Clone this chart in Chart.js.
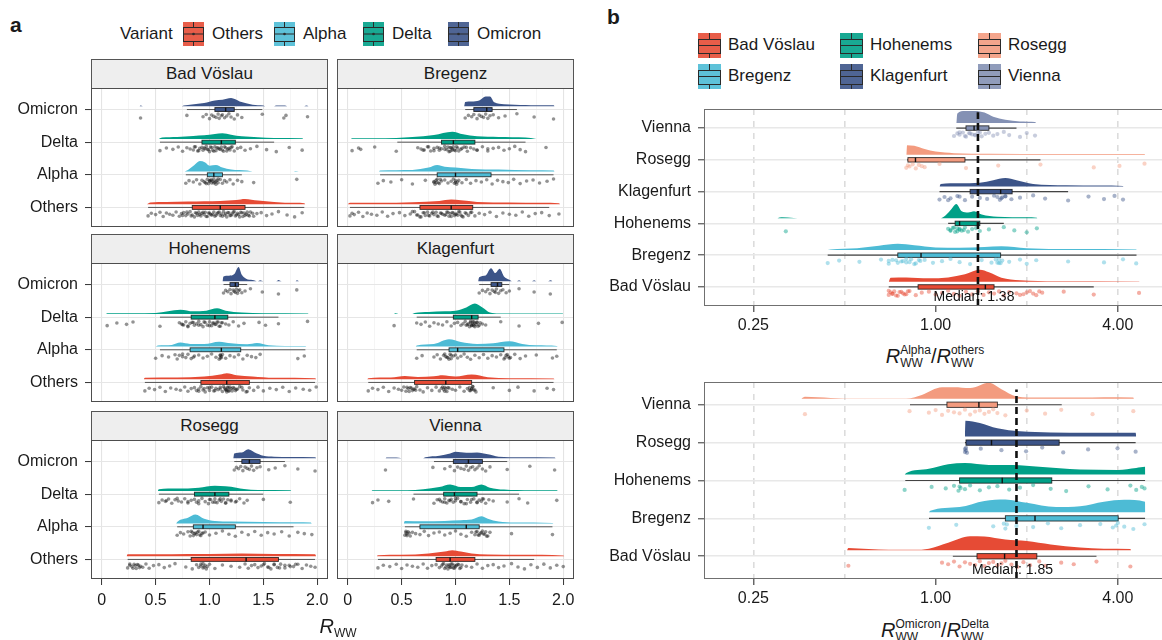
<!DOCTYPE html>
<html>
<head>
<meta charset="utf-8">
<script src="https://cdn.jsdelivr.net/npm/chart.js@4.4.1/dist/chart.umd.min.js"></script>
<style>
  html, body { margin: 0; padding: 0; background: #fff; }
  body { position: relative; width: 1162px; height: 640px; overflow: hidden;
         font-family: "Liberation Sans", Arial, Helvetica, sans-serif; color: #1a1a1a; }
  canvas { position: absolute; }
  .strip { position: absolute; box-sizing: border-box; border: 1px solid #555; background: #eeeeee;
           font-size: 17px; text-align: center; line-height: 28px; }
  .txt { position: absolute; white-space: nowrap; line-height: 20px; }
  .key { position: absolute; }
  .title { position: absolute; white-space: nowrap; transform: translateX(-50%); line-height: 24px; font-size: 20px; }
  .title i { font-style: italic; }
  .ss { display: inline-block; font-size: 12px; line-height: 13px; vertical-align: -4px; text-align: left; }
  .sub { font-size: 12px; vertical-align: -4px; }
</style>
</head>
<body>
<script>
Chart.defaults.font.family = '"Liberation Sans", Arial, Helvetica, sans-serif';
Chart.defaults.color = '#1a1a1a';

// ---------- panel a: R_WW by variant, one facet per site ----------
const variants = ['Others', 'Alpha', 'Delta', 'Omicron'];
const variantColors = ['#E64B35', '#4DBBD5', '#00A087', '#3C5488'];
const facetSites = ['Bad Vöslau', 'Bregenz', 'Hohenems', 'Klagenfurt', 'Rosegg', 'Vienna'];
const rTicks = [0, 0.25, 0.5, 0.75, 1, 1.25, 1.5, 1.75, 2];
const rTickLabels = ['0', '', '0.5', '', '1.0', '', '1.5', '', '2.0'];

// box stats per variant: [lower whisker, q1, median, q3, upper whisker]
const badVoslauBoxes = [[0.43,0.84,1.10,1.33,1.88],[0.78,0.98,1.04,1.12,1.30],[0.54,0.93,1.11,1.24,1.60],[0.79,1.05,1.15,1.23,1.49]];
const bregenzBoxes = [[0.02,0.67,0.96,1.16,1.87],[0.30,0.83,1.00,1.33,1.91],[0.46,0.87,0.98,1.18,1.65],[1.09,1.17,1.29,1.34,1.57]];
const hohenemsBoxes = [[0.40,0.92,1.16,1.37,1.98],[0.54,0.82,1.11,1.29,1.89],[0.54,0.83,1.05,1.17,1.64],[1.13,1.19,1.24,1.27,1.35]];
const klagenfurtBoxes = [[0.19,0.62,0.91,1.15,1.91],[0.64,0.94,1.02,1.45,1.94],[0.64,0.98,1.15,1.21,1.42],[1.22,1.33,1.39,1.43,1.50]];
const roseggBoxes = [[0.24,0.83,1.34,1.64,1.98],[0.70,0.85,0.94,1.24,1.78],[0.53,0.86,1.05,1.18,1.50],[1.23,1.30,1.37,1.47,1.70]];
const viennaBoxes = [[0.28,0.82,0.95,1.18,1.73],[0.53,0.67,1.10,1.22,1.90],[0.61,0.89,0.99,1.20,1.59],[0.80,0.98,1.12,1.25,1.48]];

// density outlines: [R_WW, height in category steps]
const badVoslauDensity = [
  [[0.42,0],[0.45,0.05],[0.6,0.07],[0.8,0.08],[0.95,0.09],[1.1,0.1],[1.25,0.13],[1.33,0.16],[1.45,0.11],[1.6,0.07],[1.8,0.04],[1.88,0.03],[1.89,0]],
  [[0.77,0],[0.8,0.05],[0.86,0.2],[0.91,0.32],[0.96,0.28],[1.0,0.18],[1.06,0.2],[1.12,0.12],[1.2,0.06],[1.35,0.03],[1.4,0],[1.78,0],[1.8,0.02],[1.83,0]],
  [[0.53,0],[0.56,0.04],[0.7,0.06],[0.85,0.09],[0.95,0.11],[1.05,0.15],[1.12,0.17],[1.2,0.13],[1.3,0.08],[1.45,0.05],[1.6,0.03],[1.86,0.02],[1.87,0]],
  [[0.35,0],[0.36,0.02],[0.38,0],[0.74,0],[0.76,0.02],[0.8,0.04],[0.95,0.1],[1.05,0.18],[1.12,0.2],[1.2,0.25],[1.28,0.15],[1.4,0.05],[1.5,0.02],[1.52,0],[1.6,0],[1.62,0.02],[1.7,0.02],[1.72,0],[1.88,0],[1.9,0.02],[1.92,0]]
];
const bregenzDensity = [
  [[0.0,0],[0.02,0.04],[0.3,0.04],[0.6,0.06],[0.85,0.1],[0.96,0.14],[1.05,0.12],[1.2,0.07],[1.5,0.05],[1.8,0.04],[1.96,0.03],[1.97,0]],
  [[0.29,0],[0.3,0.03],[0.6,0.05],[0.75,0.12],[0.83,0.2],[0.9,0.15],[1.0,0.12],[1.15,0.08],[1.4,0.06],[1.7,0.04],[1.91,0.03],[1.92,0]],
  [[0.03,0],[0.04,0.02],[0.25,0.02],[0.45,0.03],[0.6,0.06],[0.8,0.12],[0.97,0.22],[1.07,0.14],[1.2,0.08],[1.4,0.06],[1.65,0.04],[1.75,0]],
  [[1.08,0],[1.09,0.13],[1.15,0.15],[1.22,0.18],[1.28,0.3],[1.32,0.3],[1.36,0.12],[1.45,0.06],[1.55,0.05],[1.65,0.04],[1.75,0.03],[1.91,0.03],[1.92,0]]
];
const hohenemsDensity = [
  [[0.39,0],[0.4,0.04],[0.7,0.05],[0.95,0.08],[1.1,0.14],[1.16,0.18],[1.25,0.12],[1.4,0.08],[1.6,0.04],[1.98,0.03],[1.99,0]],
  [[0.5,0],[0.52,0.03],[0.65,0.05],[0.73,0.12],[0.82,0.08],[0.95,0.08],[1.09,0.15],[1.2,0.1],[1.35,0.07],[1.44,0.11],[1.55,0.04],[1.7,0.02],[1.89,0.02],[1.9,0]],
  [[0.04,0],[0.05,0.02],[0.3,0.02],[0.5,0.03],[0.73,0.13],[0.85,0.08],[0.97,0.1],[1.07,0.17],[1.15,0.1],[1.3,0.04],[1.5,0.02],[1.91,0.01],[1.92,0]],
  [[1.12,0],[1.13,0.15],[1.18,0.17],[1.23,0.22],[1.27,0.44],[1.3,0.2],[1.34,0.08],[1.4,0.04],[1.45,0],[1.47,0.03],[1.5,0],[1.62,0],[1.64,0.04],[1.67,0],[1.8,0],[1.81,0.03],[1.83,0]]
];
const klagenfurtDensity = [
  [[0.18,0],[0.19,0.03],[0.4,0.05],[0.53,0.1],[0.65,0.07],[0.8,0.09],[0.88,0.12],[1.0,0.08],[1.15,0.14],[1.3,0.06],[1.5,0.03],[1.91,0.02],[1.92,0]],
  [[0.63,0],[0.64,0.03],[0.8,0.08],[0.94,0.22],[1.05,0.14],[1.2,0.08],[1.35,0.1],[1.5,0.16],[1.62,0.08],[1.75,0.04],[1.94,0.02],[1.95,0]],
  [[0.43,0],[0.44,0.02],[0.47,0],[0.6,0],[0.62,0.03],[0.75,0.06],[0.9,0.08],[1.0,0.1],[1.1,0.2],[1.18,0.32],[1.25,0.2],[1.32,0.04],[1.4,0.01],[1.99,0.01],[2.0,0]],
  [[1.21,0],[1.22,0.12],[1.28,0.18],[1.33,0.4],[1.37,0.25],[1.41,0.38],[1.45,0.15],[1.5,0.05],[1.53,0],[1.57,0],[1.59,0.03],[1.61,0],[1.71,0],[1.73,0.03],[1.75,0],[1.86,0],[1.88,0.03],[1.9,0]]
];
const roseggDensity = [
  [[0.23,0],[0.24,0.06],[0.5,0.06],[0.8,0.07],[1.0,0.07],[1.3,0.08],[1.6,0.07],[1.98,0.06],[1.99,0]],
  [[0.69,0],[0.7,0.05],[0.8,0.18],[0.87,0.28],[0.95,0.15],[1.05,0.08],[1.2,0.06],[1.5,0.05],[1.8,0.04],[1.94,0.03],[1.95,0]],
  [[0.52,0],[0.53,0.05],[0.7,0.07],[0.9,0.1],[1.05,0.16],[1.15,0.14],[1.25,0.1],[1.32,0.06],[1.45,0.03],[1.75,0.02],[1.76,0]],
  [[1.22,0],[1.23,0.15],[1.3,0.18],[1.36,0.28],[1.42,0.18],[1.5,0.08],[1.6,0.05],[1.75,0.04],[1.98,0.03],[1.99,0]]
];
const viennaDensity = [
  [[0.27,0],[0.28,0.03],[0.5,0.04],[0.75,0.08],[0.9,0.14],[0.97,0.18],[1.05,0.14],[1.15,0.08],[1.3,0.05],[1.6,0.04],[2.0,0.02],[2.01,0]],
  [[0.52,0],[0.53,0.08],[0.7,0.07],[0.9,0.08],[1.05,0.1],[1.15,0.12],[1.24,0.22],[1.3,0.15],[1.4,0.06],[1.55,0.03],[1.9,0.02],[1.91,0]],
  [[0.22,0],[0.23,0.02],[0.55,0.02],[0.7,0.05],[0.85,0.12],[0.95,0.2],[1.05,0.12],[1.15,0.12],[1.24,0.2],[1.32,0.1],[1.45,0.04],[1.7,0.02],[1.94,0.02],[1.95,0]],
  [[0.35,0],[0.36,0.02],[0.45,0.02],[0.5,0],[0.7,0],[0.72,0.03],[0.85,0.08],[0.95,0.15],[1.0,0.2],[1.1,0.17],[1.2,0.18],[1.3,0.12],[1.4,0.05],[1.6,0.03],[1.92,0.02],[1.93,0]]
];

// observed R_WW values per variant
const badVoslauPoints = [
  [0.43,0.46,0.5,0.54,0.57,0.6,0.63,0.66,0.69,0.72,0.74,0.76,0.78,0.8,0.82,0.84,0.86,0.87,0.89,0.9,0.92,0.93,0.95,0.96,0.98,0.99,1.01,1.02,1.04,1.05,1.07,1.08,1.1,1.11,1.13,1.14,1.16,1.18,1.2,1.22,1.24,1.26,1.27,1.29,1.31,1.32,1.34,1.36,1.38,1.41,1.44,1.48,1.53,1.58,1.64,1.72,1.79,1.86,
   0.75,0.79,0.83,0.88,0.91,0.94,0.97,1.0,1.03,1.06,1.09,1.12,1.15,1.17,1.19,1.21,1.23,1.25,1.28,1.3,1.33,1.35,1.37,1.4],
  [0.78,0.81,0.85,0.88,0.91,0.93,0.95,0.96,0.98,0.99,1.0,1.01,1.02,1.03,1.04,1.05,1.06,1.07,1.08,1.1,1.12,1.14,1.16,1.19,1.22,1.26,1.3,1.41,1.81,0.97,1.0,1.02,1.04,1.06,1.08],
  [0.54,0.6,0.66,0.71,0.75,0.79,0.82,0.85,0.87,0.89,0.91,0.93,0.94,0.96,0.97,0.99,1.0,1.02,1.03,1.05,1.06,1.08,1.1,1.11,1.13,1.15,1.17,1.19,1.21,1.23,1.26,1.29,1.33,1.38,1.44,1.53,1.62,1.74,1.86,
   0.86,0.9,0.95,0.98,1.01,1.04,1.07,1.09,1.12,1.14,1.16,1.18,1.2],
  [0.36,0.79,0.94,0.97,1.0,1.02,1.04,1.06,1.08,1.09,1.11,1.12,1.14,1.16,1.18,1.2,1.23,1.26,1.3,1.49,1.69,1.71,1.91]
];
const bregenzPoints = [
  [0.02,0.04,0.06,0.1,0.14,0.18,0.22,0.27,0.32,0.37,0.42,0.48,0.53,0.58,0.62,0.65,0.68,0.7,0.72,0.74,0.76,0.78,0.8,0.82,0.84,0.86,0.88,0.9,0.92,0.94,0.95,0.97,0.99,1.01,1.03,1.05,1.07,1.09,1.12,1.15,1.18,1.22,1.27,1.32,1.38,1.44,1.5,1.56,1.62,1.68,1.74,1.8,1.87,1.96,
   0.6,0.64,0.67,0.71,0.75,0.79,0.83,0.87,0.91,0.93,0.96,0.98,1.0,1.02,1.04,1.06,1.1,1.14],
  [0.28,0.33,0.4,0.5,0.6,0.72,0.8,0.82,0.83,0.85,0.87,0.9,0.93,0.96,0.98,1.0,1.01,1.03,1.06,1.1,1.14,1.19,1.24,1.29,1.34,1.39,1.44,1.49,1.54,1.6,1.66,1.72,1.78,1.85,1.91,
   0.8,0.81,0.82,0.84,0.86,0.99,1.0,1.02],
  [0.04,0.1,0.12,0.25,0.45,0.65,0.68,0.71,0.74,0.77,0.8,0.83,0.85,0.87,0.9,0.92,0.94,0.95,0.97,0.98,1.0,1.02,1.05,1.08,1.11,1.14,1.17,1.2,1.25,1.3,1.35,1.4,1.45,1.5,1.55,1.6,1.65,1.84,
   0.7,0.75,0.8,0.85,0.9,0.93,0.95,0.96,0.97,0.99,1.01,1.03,1.06,1.1,1.2,1.3],
  [1.09,1.12,1.15,1.17,1.2,1.22,1.24,1.26,1.28,1.3,1.32,1.35,1.4,1.46,1.57,1.73,1.91]
];
const hohenemsPoints = [
  [0.4,0.44,0.49,0.54,0.59,0.64,0.69,0.73,0.77,0.8,0.83,0.86,0.88,0.9,0.92,0.94,0.96,0.98,1.0,1.02,1.04,1.06,1.08,1.1,1.12,1.14,1.15,1.16,1.17,1.18,1.2,1.22,1.24,1.26,1.28,1.31,1.34,1.37,1.41,1.45,1.5,1.56,1.62,1.68,1.74,1.8,1.87,1.93,1.99,
   0.9,0.95,1.0,1.05,1.1,1.13,1.15,1.16,1.17,1.18,1.19,1.21,1.23,1.25,1.3,1.35],
  [0.5,0.56,0.62,0.68,0.7,0.72,0.75,0.78,0.8,0.83,0.86,0.9,0.94,0.98,1.02,1.06,1.09,1.1,1.11,1.12,1.15,1.19,1.23,1.27,1.31,1.35,1.39,1.43,1.47,1.82,1.88,1.1,1.1,1.11,0.75,0.85],
  [0.05,0.14,0.23,0.29,0.54,0.72,0.74,0.76,0.78,0.8,0.82,0.84,0.86,0.88,0.9,0.92,0.94,0.96,0.98,1.0,1.02,1.04,1.06,1.08,1.1,1.12,1.15,1.18,1.22,1.27,1.32,1.46,1.52,1.64,1.91,
   0.75,0.8,0.85,0.9,0.95,1.0,1.03,1.05,1.07,1.09,1.11],
  [1.13,1.15,1.17,1.19,1.2,1.22,1.23,1.24,1.25,1.26,1.27,1.28,1.3,1.33,1.38,1.49,1.64,1.81]
];
const klagenfurtPoints = [
  [0.19,0.23,0.28,0.33,0.38,0.43,0.47,0.5,0.52,0.54,0.56,0.58,0.6,0.62,0.64,0.67,0.7,0.74,0.78,0.82,0.85,0.87,0.89,0.9,0.92,0.94,0.97,1.0,1.04,1.08,1.11,1.13,1.14,1.15,1.16,1.17,1.19,1.35,1.5,1.58,1.73,1.85,1.91,
   0.55,0.57,0.59,0.61,0.63,0.88,0.9,0.91,0.93,1.13,1.15,1.16,1.18],
  [0.64,0.69,0.8,0.83,0.86,0.89,0.91,0.93,0.95,0.96,0.98,1.0,1.02,1.05,1.08,1.11,1.14,1.18,1.22,1.26,1.3,1.34,1.38,1.42,1.45,1.47,1.49,1.51,1.55,1.6,1.65,1.75,1.9,1.94,
   0.9,0.92,0.94,0.96,1.46,1.48,1.5],
  [0.43,0.64,0.68,0.72,0.76,0.8,0.84,0.88,0.92,0.96,0.99,1.02,1.05,1.07,1.09,1.11,1.13,1.14,1.15,1.16,1.17,1.18,1.19,1.2,1.21,1.23,1.25,1.28,1.42,1.59,1.77,1.99,
   1.1,1.12,1.14,1.16,1.18,1.2,1.22,1.17,1.15],
  [1.22,1.25,1.28,1.3,1.32,1.34,1.36,1.37,1.38,1.4,1.42,1.44,1.47,1.5,1.59,1.73,1.88]
];
const roseggPoints = [
  [0.24,0.26,0.28,0.3,0.32,0.34,0.36,0.38,0.41,0.44,0.48,0.53,0.58,0.63,0.68,0.78,0.84,0.88,0.9,0.92,0.94,0.96,0.98,1.0,1.05,1.12,1.2,1.28,1.33,1.36,1.39,1.42,1.45,1.48,1.51,1.54,1.57,1.6,1.63,1.66,1.7,1.74,1.78,1.82,1.86,1.9,1.94,1.98,
   0.26,0.29,0.31,0.33,0.35,0.92,0.94,0.95,0.97,1.5,1.55,1.6,1.65,1.7,1.75,1.8],
  [0.7,0.73,0.76,0.8,0.82,0.84,0.86,0.88,0.9,0.92,0.94,0.96,1.0,1.06,1.12,1.18,1.24,1.3,1.36,1.42,1.48,1.54,1.6,1.67,1.74,1.82,1.88,1.95,
   0.83,0.85,0.87,0.89,0.91,0.93],
  [0.53,0.56,0.59,0.62,0.65,0.68,0.71,0.74,0.77,0.8,0.83,0.86,0.88,0.9,0.93,0.96,0.99,1.01,1.03,1.05,1.07,1.09,1.11,1.13,1.15,1.17,1.2,1.24,1.28,1.32,1.35,1.5,1.75,
   0.6,0.7,0.8,0.9,1.0,1.05,1.1,1.15,1.2,1.25],
  [1.23,1.25,1.27,1.29,1.31,1.33,1.35,1.37,1.39,1.41,1.44,1.47,1.55,1.61,1.7,1.82,1.98]
];
const viennaPoints = [
  [0.28,0.33,0.39,0.45,0.5,0.55,0.6,0.65,0.7,0.74,0.78,0.82,0.85,0.87,0.89,0.91,0.93,0.94,0.95,0.96,0.98,0.99,1.0,1.02,1.04,1.06,1.1,1.15,1.2,1.25,1.3,1.35,1.4,1.45,1.52,1.58,1.64,1.7,1.76,1.82,1.88,1.94,2.0,
   0.88,0.9,0.92,0.94,0.96,0.97,0.99,1.01,1.03,1.05],
  [0.53,0.54,0.55,0.56,0.58,0.6,0.63,0.67,0.71,0.75,0.8,0.85,0.9,0.95,1.0,1.05,1.1,1.15,1.18,1.2,1.22,1.24,1.26,1.28,1.3,1.32,1.52,1.9,
   0.54,0.55,0.57,1.19,1.21,1.23,1.25,1.27,1.29],
  [0.23,0.28,0.38,0.61,0.8,0.83,0.86,0.88,0.9,0.92,0.94,0.96,0.98,1.0,1.02,1.05,1.08,1.11,1.14,1.17,1.2,1.22,1.24,1.26,1.28,1.31,1.35,1.48,1.59,1.67,1.94,
   0.85,0.9,0.95,1.0,1.05,1.1,1.15,1.2,1.25],
  [0.35,0.79,0.9,0.95,0.99,1.02,1.05,1.08,1.1,1.12,1.14,1.16,1.18,1.2,1.22,1.25,1.28,1.32,1.48,1.69,1.92]
];

// ---------- panel b: ratios of R_WW between variants, per site ----------
const ratioTicks = [0.25, 0.5, 1, 2, 4];
const ratioTickLabels = ['0.25', '', '1.00', '', '4.00'];
const siteColors = ['#E64B35', '#4DBBD5', '#00A087', '#3C5488', '#F39B7F', '#8491B4'];

const alphaSites = ['Bad Vöslau', 'Bregenz', 'Hohenems', 'Klagenfurt', 'Rosegg', 'Vienna'];
const alphaColors = ['#E64B35', '#4DBBD5', '#00A087', '#3C5488', '#F39B7F', '#8491B4'];
const alphaMedian = 1.38;
const alphaBoxes = [[0.70,0.875,1.46,1.56,3.33],[0.44,0.75,0.895,1.64,4.61],[1.10,1.16,1.20,1.40,1.68],[1.03,1.30,1.64,1.79,2.74],[0.805,0.81,0.858,1.25,2.22],[1.17,1.26,1.34,1.50,1.85]];
const alphaDensity = [
  [[0.7,0],[0.71,0.13],[0.8,0.14],[0.95,0.11],[1.1,0.14],[1.25,0.24],[1.4,0.38],[1.5,0.3],[1.65,0.13],[1.9,0.05],[2.5,0.02],[4.7,0.01],[4.72,0]],
  [[0.44,0],[0.45,0.02],[0.55,0.06],[0.65,0.14],[0.75,0.2],[0.85,0.15],[1.0,0.08],[1.2,0.07],[1.45,0.1],[1.65,0.12],[2.0,0.06],[2.8,0.03],[4.6,0.02],[4.62,0]],
  [[0.3,0],[0.31,0.03],[0.34,0.01],[0.36,0],[1.03,0],[1.08,0.1],[1.13,0.3],[1.17,0.45],[1.22,0.22],[1.28,0.18],[1.34,0.22],[1.42,0.12],[1.6,0.05],[2.0,0.03],[2.16,0.02],[2.17,0]],
  [[1.03,0],[1.04,0.08],[1.2,0.1],[1.4,0.12],[1.55,0.2],[1.7,0.27],[1.85,0.2],[2.1,0.08],[2.7,0.04],[3.5,0.03],[4.16,0.02],[4.18,0]],
  [[0.8,0],[0.805,0.3],[0.85,0.28],[0.92,0.18],[1.0,0.1],[1.15,0.05],[1.5,0.03],[2.5,0.02],[4.0,0.02],[4.9,0.02],[4.92,0]],
  [[1.17,0],[1.18,0.3],[1.25,0.38],[1.35,0.38],[1.45,0.33],[1.55,0.2],[1.7,0.1],[1.9,0.05],[2.13,0.03],[2.15,0]]
];
const alphaPoints = [
  [0.7,0.71,0.72,0.73,0.74,0.76,0.78,0.8,0.82,0.86,0.9,0.95,1.0,1.05,1.1,1.15,1.2,1.26,1.32,1.38,1.44,1.5,1.56,1.62,1.68,1.75,1.85,1.95,2.05,2.15,2.25,2.65,3.33,4.7,
   0.7,0.72,0.75,0.77,0.79,0.81,1.9,2.0,2.1,2.2],
  [0.44,0.48,0.56,0.66,0.7,0.74,0.77,0.8,0.83,0.86,0.89,0.92,0.98,1.05,1.12,1.2,1.3,1.42,1.53,1.58,1.62,1.66,1.75,1.9,2.0,2.15,2.74,3.6,4.16,4.6,
   0.7,0.72,0.75,0.78,0.8,0.82,0.85,0.88,1.6,1.62,1.64],
  [0.32,1.1,1.12,1.14,1.16,1.18,1.2,1.22,1.25,1.28,1.32,1.36,1.4,1.5,1.68,1.82,2.0,2.16,1.12,1.15,1.18,1.2,1.24],
  [1.03,1.07,1.12,1.18,1.25,1.32,1.4,1.48,1.56,1.63,1.66,1.7,1.78,1.9,2.1,2.3,2.74,3.2,3.6,3.9,4.16,1.6,1.65,1.7,1.1,1.2],
  [0.8,0.81,0.82,0.84,0.86,0.88,0.9,0.92,1.03,1.26,1.61,2.22,3.33,4.05,4.9],
  [1.15,1.18,1.2,1.23,1.26,1.29,1.32,1.35,1.38,1.42,1.46,1.5,1.55,1.6,1.68,1.75,1.9,2.0,2.13,1.2,1.25,1.3,1.35,1.4]
];

const omicronSites = ['Bad Vöslau', 'Bregenz', 'Hohenems', 'Rosegg', 'Vienna'];
const omicronColors = ['#E64B35', '#4DBBD5', '#00A087', '#3C5488', '#F39B7F'];
const omicronMedian = 1.85;
const omicronBoxes = [[1.14,1.37,1.69,2.16,3.40],[0.951,1.70,2.13,4.01,4.92],[0.794,1.20,1.66,2.42,4.92],[1.25,1.26,1.53,2.56,4.58],[0.823,1.09,1.39,1.60,2.61]];
const omicronDensity = [
  [[0.51,0],[0.515,0.06],[0.6,0.03],[0.7,0.01],[0.85,0.01],[0.95,0.04],[1.1,0.2],[1.3,0.37],[1.45,0.36],[1.7,0.28],[2.0,0.24],[2.4,0.15],[3.0,0.07],[3.6,0.04],[4.4,0.03],[4.42,0]],
  [[0.95,0],[0.96,0.04],[1.2,0.14],[1.45,0.3],[1.7,0.34],[2.0,0.25],[2.5,0.14],[3.0,0.16],[3.6,0.28],[4.2,0.33],[4.92,0.28],[4.93,0]],
  [[0.79,0],[0.8,0.04],[0.95,0.15],[1.1,0.27],[1.25,0.3],[1.5,0.25],[1.8,0.25],[2.2,0.2],[3.0,0.13],[4.0,0.12],[4.6,0.17],[4.92,0.2],[4.93,0]],
  [[1.25,0],[1.255,0.42],[1.4,0.36],[1.6,0.22],[1.9,0.14],[2.4,0.11],[3.2,0.1],[4.58,0.1],[4.6,0]],
  [[0.36,0],[0.37,0.05],[0.45,0.02],[0.55,0.005],[0.8,0.005],[0.9,0.1],[1.05,0.3],[1.15,0.3],[1.3,0.28],[1.5,0.42],[1.65,0.25],[1.85,0.06],[2.2,0.03],[3.0,0.03],[3.6,0.04],[4.5,0.03],[4.52,0]]
];
const omicronPoints = [
  [0.515,1.05,1.1,1.15,1.2,1.25,1.3,1.35,1.4,1.45,1.5,1.55,1.6,1.65,1.7,1.78,1.86,1.95,2.05,2.2,2.3,2.6,2.86,3.4,4.4],
  [0.95,1.17,1.55,1.68,1.7,1.72,1.85,2.1,2.35,2.6,3.0,3.5,3.85,3.95,4.0,4.2,4.5,4.9],
  [0.79,0.97,1.08,1.15,1.19,1.2,1.21,1.25,1.3,1.4,1.5,1.6,1.75,1.9,2.1,2.4,2.7,3.2,3.7,4.4,4.6,4.8,4.9],
  [1.25,1.25,1.26,1.26,1.27,1.41,1.65,1.99,2.25,2.64,3.19,3.99,4.58],
  [0.37,0.82,0.95,1.0,1.05,1.1,1.15,1.2,1.25,1.3,1.35,1.4,1.45,1.5,1.55,1.6,1.7,2.0,2.3,2.6,3.3,4.5]
];

// fixed vertical spread for the dot strips (category units, scaled per panel)
const jitterSteps = [-0.05,0.03,-0.01,0.06,-0.07,0.04,0.0,-0.03,0.07,-0.06,0.02,0.05,-0.04,0.01,0.08,-0.02,-0.08,0.045,-0.035,0.065];

function fade(hex, a) {
  const n = parseInt(hex.slice(1), 16);
  return `rgba(${n >> 16},${(n >> 8) & 255},${n & 255},${a})`;
}

function makeRaincloud(cfg) {
  const canvas = document.createElement('canvas');
  const cw = cfg.yAxisW + cfg.width, ch = cfg.height + cfg.xAxisH;
  canvas.width = cw; canvas.height = ch;
  canvas.style.left = (cfg.left - cfg.yAxisW) + 'px';
  canvas.style.top = cfg.top + 'px';
  canvas.style.width = cw + 'px'; canvas.style.height = ch + 'px';
  document.body.appendChild(canvas);

  const datasets = [];
  cfg.density.forEach((d, i) => {
    const base = i + 1 + cfg.densBase;
    datasets.push({
      type: 'line', order: 3, showLine: true,
      data: d.map(p => ({ x: p[0], y: base + p[1] })),
      borderWidth: 0, pointRadius: 0, backgroundColor: cfg.colors[i],
      fill: { value: base }, cubicInterpolationMode: 'monotone'
    });
  });
  cfg.points.forEach((pts, i) => {
    datasets.push({
      type: 'scatter', order: 2, showLine: false,
      data: pts.map((v, k) => ({ x: v, y: i + 1 + cfg.ptOffset + jitterSteps[k % jitterSteps.length] * cfg.jitter })),
      pointRadius: cfg.ptRadius, backgroundColor: cfg.ptColors[i], borderWidth: 0
    });
  });
  if (cfg.median) {
    datasets.push({
      type: 'line', order: 1, showLine: true,
      data: [{ x: cfg.median, y: cfg.ymin }, { x: cfg.median, y: cfg.medianTop }],
      borderColor: '#111', borderWidth: 2.6, borderDash: [7, 4], pointRadius: 0, fill: false
    });
  }

  const decor = {
    id: 'raincloudDecor',
    beforeDatasetsDraw(chart) {
      const { ctx, scales: { x, y } } = chart;
      ctx.save();
      cfg.boxes.forEach((b, i) => {
        const cy = y.getPixelForValue(i + 1);
        const hh = Math.abs(y.getPixelForValue(i + 1 + cfg.boxHalf) - cy);
        const px = b.map(v => x.getPixelForValue(v));
        ctx.strokeStyle = cfg.whiskerColor; ctx.lineWidth = cfg.whiskerWidth;
        ctx.beginPath(); ctx.moveTo(px[0], cy); ctx.lineTo(px[4], cy); ctx.stroke();
        ctx.fillStyle = cfg.colors[i];
        ctx.fillRect(px[1], cy - hh, px[3] - px[1], 2 * hh);
        ctx.strokeStyle = 'rgba(20,20,20,0.85)'; ctx.lineWidth = 0.9;
        ctx.strokeRect(px[1], cy - hh, px[3] - px[1], 2 * hh);
        ctx.strokeStyle = '#111'; ctx.lineWidth = 1.4;
        ctx.beginPath(); ctx.moveTo(px[2], cy - hh); ctx.lineTo(px[2], cy + hh); ctx.stroke();
      });
      ctx.restore();
    },
    afterDraw(chart) {
      const { ctx, chartArea: a, scales: { x } } = chart;
      ctx.save();
      if (cfg.medianLabel) {
        ctx.font = '14px "Liberation Sans", Arial, sans-serif';
        ctx.fillStyle = '#111'; ctx.textAlign = 'center'; ctx.textBaseline = 'middle';
        ctx.fillText(cfg.medianLabel, x.getPixelForValue(cfg.median) - 4, a.bottom - 9);
      }
      ctx.strokeStyle = cfg.frameColor; ctx.lineWidth = 1;
      ctx.strokeRect(a.left + 0.5, a.top + 0.5, a.width - 1, a.height - 1);
      ctx.restore();
    }
  };

  return new Chart(canvas, {
    type: 'scatter',
    data: { datasets },
    options: {
      responsive: false, animation: false, events: [], devicePixelRatio: 1,
      layout: { padding: 0, autoPadding: false },
      plugins: { legend: { display: false }, tooltip: { enabled: false } },
      scales: {
        x: cfg.xScale,
        y: {
          type: 'linear', min: cfg.ymin, max: cfg.ymax,
          afterBuildTicks: s => { s.ticks = cfg.categories.map((c, i) => ({ value: i + 1 })); },
          ticks: { display: cfg.yAxisW > 0, callback: (v, i) => cfg.categories[i], font: { size: 16 }, color: '#1a1a1a', padding: 7 },
          grid: { color: cfg.hGrid, lineWidth: cfg.hGridWidth, drawTicks: cfg.yAxisW > 0, tickLength: 6, tickColor: '#333', tickWidth: 1 },
          border: { display: false },
          afterFit: s => { s.width = cfg.yAxisW; s.paddingTop = 0; s.paddingBottom = 0; }
        }
      }
    },
    plugins: [decor]
  });
}

// ---------- build panel a ----------
const facetBoxes = [badVoslauBoxes, bregenzBoxes, hohenemsBoxes, klagenfurtBoxes, roseggBoxes, viennaBoxes];
const facetDensity = [badVoslauDensity, bregenzDensity, hohenemsDensity, klagenfurtDensity, roseggDensity, viennaDensity];
const facetPoints = [badVoslauPoints, bregenzPoints, hohenemsPoints, klagenfurtPoints, roseggPoints, viennaPoints];
const colLeft = [91, 337];
const stripTop = [59, 234, 411];
const plotTop = [88, 263, 440];
const facetW = 237, facetH = 139;

facetSites.forEach((site, f) => {
  const col = f % 2, row = Math.floor(f / 2);
  const strip = document.createElement('div');
  strip.className = 'strip';
  strip.style.left = colLeft[col] + 'px'; strip.style.top = stripTop[row] + 'px';
  strip.style.width = facetW + 'px'; strip.style.height = (plotTop[row] - stripTop[row] + 1) + 'px';
  strip.textContent = site;
  document.body.appendChild(strip);

  const bottom = row === 2;
  makeRaincloud({
    left: colLeft[col], top: plotTop[row], width: facetW, height: facetH,
    yAxisW: col === 0 ? 91 : 0, xAxisH: bottom ? 62 : 0,
    categories: variants, colors: variantColors,
    boxes: facetBoxes[f], density: facetDensity[f], points: facetPoints[f],
    ptColors: variants.map(() => 'rgba(15,15,15,0.45)'), ptRadius: 1.8,
    densBase: 0.1, boxHalf: 0.06, ptOffset: -0.21, jitter: 1.0,
    ymin: 0.4, ymax: 4.66, hGrid: '#e6e6e6', hGridWidth: 1.1,
    whiskerColor: '#555', whiskerWidth: 1, frameColor: '#4d4d4d',
    xScale: {
      type: 'linear', min: -0.1, max: 2.1,
      afterBuildTicks: s => { s.ticks = rTicks.map(v => ({ value: v })); },
      ticks: { display: bottom, callback: (v, i) => rTickLabels[i], font: { size: 16 }, color: '#1a1a1a',
               padding: 6, autoSkip: false, maxRotation: 0 },
      grid: { color: c => (c.index % 2 === 0 ? '#e4e4e4' : '#f1f1f1'), lineWidth: c => (c.index % 2 === 0 ? 1.1 : 0.7),
              drawTicks: bottom, tickLength: 6, tickColor: c => (c.index % 2 === 0 ? '#333' : 'rgba(0,0,0,0)'), tickWidth: 1 },
      border: { display: false },
      afterFit: s => { s.height = bottom ? 62 : 0; s.paddingLeft = 0; s.paddingRight = 0; }
    }
  });
});

// ---------- build panel b ----------
function ratioScale() {
  return {
    type: 'logarithmic', min: 0.1717, max: 5.77,
    afterBuildTicks: s => { s.ticks = ratioTicks.map(v => ({ value: v })); },
    ticks: { callback: (v, i) => ratioTickLabels[i], font: { size: 16 }, color: '#1a1a1a', padding: 4, autoSkip: false, maxRotation: 0 },
    grid: { color: c => (c.tick && c.tick.value === 1 ? 'rgba(0,0,0,0)' : '#dcdcdc'), lineWidth: 1.6,
            tickLength: 6, tickWidth: 1.1, tickColor: c => (c.index % 2 === 0 ? '#333' : 'rgba(0,0,0,0)') },
    border: { display: false, dash: [6, 6] },
    afterFit: s => { s.height = 30; s.paddingLeft = 0; s.paddingRight = 0; }
  };
}

makeRaincloud({
  left: 704, top: 109, width: 462, height: 197, yAxisW: 114, xAxisH: 30,
  categories: alphaSites, colors: alphaColors,
  boxes: alphaBoxes, density: alphaDensity, points: alphaPoints,
  ptColors: alphaColors.map(c => fade(c, 0.45)), ptRadius: 2.1,
  densBase: 0.16, boxHalf: 0.07, ptOffset: -0.2, jitter: 1.0,
  ymin: 0.4, ymax: 6.6, hGrid: '#e8e8e8', hGridWidth: 1.6,
  whiskerColor: '#444', whiskerWidth: 1.2, frameColor: '#707070',
  median: alphaMedian, medianTop: 6.5, medianLabel: 'Median: ' + alphaMedian.toFixed(2),
  xScale: ratioScale()
});
makeRaincloud({
  left: 704, top: 382, width: 462, height: 197, yAxisW: 114, xAxisH: 30,
  categories: omicronSites, colors: omicronColors,
  boxes: omicronBoxes, density: omicronDensity, points: omicronPoints,
  ptColors: omicronColors.map(c => fade(c, 0.45)), ptRadius: 2.1,
  densBase: 0.16, boxHalf: 0.07, ptOffset: -0.2, jitter: 1.0,
  ymin: 0.4, ymax: 5.6, hGrid: '#e8e8e8', hGridWidth: 1.6,
  whiskerColor: '#444', whiskerWidth: 1.2, frameColor: '#707070',
  median: omicronMedian, medianTop: 5.4, medianLabel: 'Median: ' + omicronMedian.toFixed(2),
  xScale: ratioScale()
});

// ---------- labels, legends and axis titles ----------
function addText(html, left, cy, size, extra) {
  const d = document.createElement('div');
  d.className = 'txt';
  d.style.left = left + 'px'; d.style.top = (cy - 10) + 'px'; d.style.fontSize = size + 'px';
  if (extra) Object.assign(d.style, extra);
  d.innerHTML = html;
  document.body.appendChild(d);
  return d;
}
function addKey(color, left, top, w, h, dot) {
  const bt = Math.round(h * 0.22), bb = Math.round(h * 0.78), cx = w / 2;
  const d = document.createElement('div');
  d.className = 'key';
  d.style.left = left + 'px'; d.style.top = top + 'px';
  d.innerHTML = `<svg width="${w}" height="${h}" xmlns="http://www.w3.org/2000/svg">
    <rect x="0" y="0" width="${w}" height="${h}" fill="${color}" fill-opacity="0.9"/>
    <line x1="${cx}" y1="0" x2="${cx}" y2="${bt}" stroke="#2a2a2a" stroke-width="1"/>
    <line x1="${cx}" y1="${bb}" x2="${cx}" y2="${h}" stroke="#2a2a2a" stroke-width="1"/>
    <rect x="0.5" y="${bt + 0.5}" width="${w - 1}" height="${bb - bt}" fill="none" stroke="#2a2a2a" stroke-width="1"/>
    <line x1="0" y1="${h / 2}" x2="${w}" y2="${h / 2}" stroke="#2a2a2a" stroke-width="1"/>
    ${dot ? `<circle cx="${cx}" cy="${h / 2}" r="1.3" fill="#2a2a2a"/>` : ''}
  </svg>`;
  document.body.appendChild(d);
}

addText('a', 10, 25, 21, { fontWeight: 'bold' });
addText('b', 607, 17, 21, { fontWeight: 'bold' });

addText('Variant', 120, 34, 17);
const variantKeyLeft = [183, 274, 363, 448];
variants.forEach((v, i) => {
  addKey(variantColors[i], variantKeyLeft[i], 22, 21, 24, true);
  addText(v, variantKeyLeft[i] + 29, 34, 17);
});

const siteKeyLeft = [698, 840, 978];
const siteKeyTop = [33, 64];
alphaSites.forEach((s, i) => {
  const col = Math.floor(i / 2), row = i % 2;
  addKey(siteColors[i], siteKeyLeft[col], siteKeyTop[row], 23, 25, false);
  addText(s, siteKeyLeft[col] + 30, siteKeyTop[row] + 12, 17);
});

function addTitle(html, cx, baseline) {
  const d = document.createElement('div');
  d.className = 'title';
  d.style.left = cx + 'px'; d.style.top = (baseline - 19.5) + 'px';
  d.innerHTML = html;
  document.body.appendChild(d);
}
addTitle('<i>R</i><span class="sub">WW</span>', 338, 633);
addTitle('<i>R</i><span class="ss">Alpha<br>WW</span>/<i>R</i><span class="ss">others<br>WW</span>', 935, 363);
addTitle('<i>R</i><span class="ss">Omicron<br>WW</span>/<i>R</i><span class="ss">Delta<br>WW</span>', 935, 637);
</script>
</body>
</html>
